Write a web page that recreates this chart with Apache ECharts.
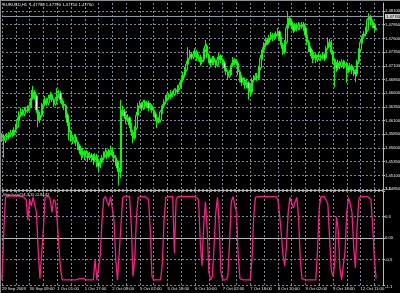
<!DOCTYPE html>
<html><head><meta charset="utf-8">
<script src="https://cdn.jsdelivr.net/npm/echarts@6/dist/echarts.min.js"></script>
<style>html,body{margin:0;padding:0;background:#000;}#c{width:400px;height:293px;}</style>
</head><body><div id="c"></div>
<script>
// ---- data ----
const timeLabels = ['29 Sep 2009','30 Sep 09:00','1 Oct 01:00','1 Oct 17:00','2 Oct 09:00','5 Oct 02:00','5 Oct 18:00','6 Oct 10:00','7 Oct 02:00','7 Oct 18:00','8 Oct 10:00','9 Oct 02:00','9 Oct 18:00','12 Oct 11:00'];
const priceTicks = [1.4810,1.4785,1.4760,1.4735,1.4710,1.4685,1.4660,1.4635,1.4610,1.4585,1.4560,1.4535,1.4510,1.4485];
const oscTicks = [1.1,0.5,0,-0.5,-1.1];
const bidPrice = 1.4776;
const titleText = 'EURUSD,H1  1.47780 1.47790 1.47750 1.47760';
const oscTitle = 'Stoch-rsi(14,3,3) -0.9442';
// [open, close, low, high]
const candles = [
[1.4582,1.4578,1.4571,1.4587],[1.4578,1.4574,1.4542,1.4584],[1.4574,1.4582,1.4569,1.4585],[1.4582,1.4580,1.4574,1.4587],[1.4580,1.4584,1.4576,1.4589],
[1.4584,1.4587,1.4580,1.4593],[1.4587,1.4585,1.4580,1.4593],[1.4585,1.4593,1.4582,1.4598],[1.4593,1.4598,1.4589,1.4604],[1.4598,1.4611,1.4596,1.4616],
[1.4611,1.4620,1.4607,1.4627],[1.4620,1.4626,1.4616,1.4633],[1.4626,1.4622,1.4618,1.4631],[1.4622,1.4629,1.4618,1.4635],[1.4629,1.4627,1.4622,1.4635],
[1.4627,1.4633,1.4624,1.4638],[1.4633,1.4637,1.4629,1.4644],[1.4637,1.4651,1.4633,1.4666],[1.4651,1.4662,1.4648,1.4673],[1.4662,1.4655,1.4648,1.4666],
[1.4655,1.4629,1.4624,1.4658],[1.4629,1.4611,1.4598,1.4633],[1.4611,1.4620,1.4606,1.4626],[1.4620,1.4637,1.4616,1.4642],[1.4637,1.4640,1.4633,1.4648],
[1.4640,1.4648,1.4637,1.4655],[1.4648,1.4642,1.4637,1.4651],[1.4642,1.4651,1.4638,1.4657],[1.4651,1.4657,1.4648,1.4662],[1.4657,1.4648,1.4644,1.4660],
[1.4648,1.4640,1.4635,1.4651],[1.4640,1.4648,1.4637,1.4653],[1.4648,1.4655,1.4644,1.4669],[1.4655,1.4660,1.4651,1.4666],[1.4660,1.4648,1.4642,1.4664],
[1.4648,1.4640,1.4635,1.4651],[1.4640,1.4637,1.4629,1.4646],[1.4637,1.4620,1.4615,1.4640],[1.4620,1.4607,1.4600,1.4624],[1.4607,1.4589,1.4574,1.4611],
[1.4589,1.4578,1.4571,1.4593],[1.4578,1.4574,1.4567,1.4584],[1.4574,1.4580,1.4569,1.4585],[1.4580,1.4571,1.4564,1.4584],[1.4571,1.4564,1.4556,1.4574],
[1.4564,1.4556,1.4549,1.4567],[1.4556,1.4547,1.4538,1.4560],[1.4547,1.4553,1.4542,1.4558],[1.4553,1.4545,1.4538,1.4556],[1.4545,1.4551,1.4542,1.4556],
[1.4551,1.4542,1.4534,1.4554],[1.4542,1.4547,1.4538,1.4553],[1.4547,1.4543,1.4536,1.4551],[1.4543,1.4538,1.4529,1.4549],[1.4538,1.4545,1.4534,1.4551],
[1.4545,1.4534,1.4525,1.4549],[1.4534,1.4527,1.4516,1.4540],[1.4527,1.4534,1.4523,1.4542],[1.4534,1.4542,1.4531,1.4547],[1.4542,1.4547,1.4538,1.4554],
[1.4547,1.4553,1.4543,1.4560],[1.4553,1.4545,1.4540,1.4556],[1.4545,1.4551,1.4542,1.4558],[1.4551,1.4556,1.4547,1.4564],[1.4556,1.4547,1.4542,1.4560],
[1.4547,1.4542,1.4534,1.4553],[1.4542,1.4534,1.4527,1.4547],[1.4534,1.4523,1.4516,1.4538],[1.4523,1.4516,1.4492,1.4529],[1.4516,1.4629,1.4505,1.4648],
[1.4629,1.4626,1.4618,1.4637],[1.4626,1.4618,1.4613,1.4631],[1.4618,1.4611,1.4604,1.4624],[1.4611,1.4615,1.4607,1.4622],[1.4615,1.4602,1.4596,1.4618],
[1.4602,1.4589,1.4582,1.4606],[1.4589,1.4578,1.4569,1.4593],[1.4578,1.4596,1.4574,1.4600],[1.4596,1.4620,1.4593,1.4626],[1.4620,1.4637,1.4616,1.4642],
[1.4637,1.4640,1.4633,1.4646],[1.4640,1.4633,1.4627,1.4644],[1.4633,1.4644,1.4629,1.4648],[1.4644,1.4637,1.4631,1.4648],[1.4637,1.4642,1.4633,1.4646],
[1.4642,1.4633,1.4627,1.4646],[1.4633,1.4637,1.4629,1.4642],[1.4637,1.4629,1.4624,1.4640],[1.4629,1.4622,1.4616,1.4633],[1.4622,1.4615,1.4609,1.4626],
[1.4615,1.4607,1.4596,1.4618],[1.4607,1.4611,1.4604,1.4616],[1.4611,1.4626,1.4607,1.4629],[1.4626,1.4637,1.4622,1.4640],[1.4637,1.4644,1.4633,1.4649],
[1.4644,1.4651,1.4640,1.4657],[1.4651,1.4657,1.4648,1.4662],[1.4657,1.4653,1.4648,1.4660],[1.4653,1.4660,1.4649,1.4666],[1.4660,1.4658,1.4653,1.4664],
[1.4658,1.4666,1.4655,1.4669],[1.4666,1.4662,1.4657,1.4669],[1.4662,1.4669,1.4658,1.4675],[1.4669,1.4675,1.4666,1.4680],[1.4675,1.4684,1.4671,1.4689],
[1.4684,1.4693,1.4680,1.4699],[1.4693,1.4702,1.4689,1.4708],[1.4702,1.4713,1.4699,1.4719],[1.4713,1.4724,1.4710,1.4744],[1.4724,1.4731,1.4721,1.4739],
[1.4731,1.4726,1.4721,1.4735],[1.4726,1.4730,1.4722,1.4737],[1.4730,1.4735,1.4726,1.4742],[1.4735,1.4724,1.4719,1.4739],[1.4724,1.4726,1.4719,1.4731],
[1.4726,1.4717,1.4710,1.4730],[1.4717,1.4721,1.4713,1.4726],[1.4721,1.4739,1.4717,1.4742],[1.4739,1.4746,1.4735,1.4757],[1.4746,1.4730,1.4724,1.4750],
[1.4730,1.4721,1.4715,1.4733],[1.4721,1.4715,1.4708,1.4724],[1.4715,1.4724,1.4711,1.4728],[1.4724,1.4717,1.4711,1.4728],[1.4717,1.4711,1.4706,1.4721],
[1.4711,1.4721,1.4708,1.4726],[1.4721,1.4728,1.4717,1.4733],[1.4728,1.4721,1.4715,1.4731],[1.4721,1.4715,1.4710,1.4724],[1.4715,1.4706,1.4700,1.4719],
[1.4706,1.4699,1.4693,1.4710],[1.4699,1.4691,1.4684,1.4702],[1.4691,1.4697,1.4688,1.4702],[1.4697,1.4711,1.4693,1.4715],[1.4711,1.4721,1.4708,1.4726],
[1.4721,1.4717,1.4711,1.4724],[1.4717,1.4715,1.4710,1.4722],[1.4715,1.4699,1.4693,1.4719],[1.4699,1.4688,1.4680,1.4702],[1.4688,1.4680,1.4673,1.4693],
[1.4680,1.4684,1.4675,1.4689],[1.4684,1.4675,1.4668,1.4688],[1.4675,1.4679,1.4669,1.4684],[1.4679,1.4669,1.4648,1.4682],[1.4669,1.4662,1.4655,1.4675],
[1.4662,1.4684,1.4658,1.4688],[1.4684,1.4688,1.4680,1.4693],[1.4688,1.4691,1.4684,1.4697],[1.4691,1.4688,1.4682,1.4697],[1.4688,1.4706,1.4684,1.4710],
[1.4706,1.4724,1.4702,1.4730],[1.4724,1.4739,1.4721,1.4744],[1.4739,1.4748,1.4735,1.4753],[1.4748,1.4757,1.4744,1.4762],[1.4757,1.4753,1.4748,1.4761],
[1.4753,1.4761,1.4750,1.4766],[1.4761,1.4766,1.4757,1.4772],[1.4766,1.4761,1.4755,1.4770],[1.4761,1.4764,1.4757,1.4770],[1.4764,1.4768,1.4761,1.4773],
[1.4768,1.4772,1.4764,1.4779],[1.4772,1.4761,1.4755,1.4775],[1.4761,1.4748,1.4741,1.4764],[1.4748,1.4735,1.4730,1.4752],[1.4735,1.4753,1.4731,1.4757],
[1.4753,1.4779,1.4750,1.4784],[1.4779,1.4797,1.4775,1.4808],[1.4797,1.4790,1.4784,1.4801],[1.4790,1.4783,1.4777,1.4794],[1.4783,1.4775,1.4770,1.4786],
[1.4775,1.4784,1.4772,1.4788],[1.4784,1.4779,1.4773,1.4788],[1.4779,1.4784,1.4775,1.4790],[1.4784,1.4781,1.4775,1.4788],[1.4781,1.4786,1.4777,1.4790],
[1.4786,1.4779,1.4773,1.4790],[1.4779,1.4766,1.4761,1.4783],[1.4766,1.4753,1.4748,1.4770],[1.4753,1.4742,1.4735,1.4757],[1.4742,1.4735,1.4728,1.4746],
[1.4735,1.4724,1.4715,1.4739],[1.4724,1.4730,1.4721,1.4735],[1.4730,1.4721,1.4715,1.4733],[1.4721,1.4726,1.4717,1.4730],[1.4726,1.4728,1.4721,1.4733],
[1.4728,1.4724,1.4719,1.4731],[1.4724,1.4730,1.4721,1.4735],[1.4730,1.4724,1.4719,1.4733],[1.4724,1.4742,1.4721,1.4746],[1.4742,1.4750,1.4739,1.4762],
[1.4750,1.4753,1.4744,1.4759],[1.4753,1.4735,1.4730,1.4757],[1.4735,1.4721,1.4713,1.4739],[1.4721,1.4711,1.4671,1.4724],[1.4711,1.4706,1.4699,1.4717],
[1.4706,1.4715,1.4702,1.4721],[1.4715,1.4710,1.4704,1.4719],[1.4710,1.4717,1.4706,1.4722],[1.4717,1.4710,1.4704,1.4721],[1.4710,1.4713,1.4706,1.4719],
[1.4713,1.4706,1.4679,1.4717],[1.4706,1.4702,1.4697,1.4711],[1.4702,1.4710,1.4699,1.4715],[1.4710,1.4702,1.4695,1.4713],[1.4702,1.4699,1.4691,1.4708],
[1.4699,1.4695,1.4680,1.4704],[1.4695,1.4717,1.4691,1.4721],[1.4717,1.4739,1.4713,1.4742],[1.4739,1.4753,1.4735,1.4757],[1.4753,1.4764,1.4750,1.4768],
[1.4764,1.4768,1.4761,1.4773],[1.4768,1.4775,1.4764,1.4781],[1.4775,1.4794,1.4772,1.4797],[1.4794,1.4799,1.4790,1.4806],[1.4799,1.4790,1.4784,1.4803],
[1.4790,1.4784,1.4779,1.4794],[1.4784,1.4779,1.4773,1.4788],[1.4778,1.4776,1.4775,1.4779]
];
const osc = [
-0.98,0.1,0.95,0.97,0.98,0.98,0.98,0.98,0.98,0.98,
0.98,0.98,0.97,0.98,0.9,0.42,0.9,0.75,0.95,0.95,
0.6,-0.3,-0.95,-0.95,0.2,0.95,0.97,0.98,0.9,0.6,
0.9,0.85,0.4,-0.2,-0.75,-0.98,-0.98,-0.98,-0.98,-0.98,
-0.98,-0.98,-0.98,-0.98,-0.98,-0.95,-0.98,-0.95,-0.98,-0.98,
-0.98,-0.98,-0.98,-0.98,-0.5,-0.98,-0.98,-0.4,0.4,0.92,
0.97,0.85,0.75,0.97,0.95,0.4,-0.5,-0.98,-0.98,0.3,
0.95,0.97,0.98,0.98,0.97,0.3,-0.9,-0.5,0.5,0.95,
0.97,0.97,0.98,0.97,0.97,0.9,0.2,-0.9,-0.98,-0.98,
-0.98,-0.98,-0.98,-0.6,0.4,0.95,0.97,0.97,0.98,0.97,
-0.35,0.9,0.97,0.97,0.97,0.97,0.97,0.97,0.97,0.97,
0.97,0.97,0.97,0.97,0.9,-0.1,-0.65,0.3,0.85,0.2,
-0.8,-0.98,-0.9,-0.2,0.6,0.95,0.3,-0.8,-0.98,-0.98,
-0.98,-0.9,-0.1,0.85,0.97,0.97,0.6,-0.4,-0.95,-0.98,
-0.98,-0.98,-0.98,-0.98,-0.98,-0.5,0.5,0.95,0.97,0.97,
0.97,0.97,0.97,0.97,0.97,0.97,0.97,0.97,0.97,0.97,
0.9,0.55,0.1,-0.4,-0.65,-0.2,0.6,0.95,0.97,0.7,
0.85,0.95,0.5,-0.5,-0.95,-0.98,-0.98,-0.98,-0.98,-0.98,
-0.98,-0.98,-0.98,-0.3,0.7,0.97,0.97,0.97,0.97,0.8,
0.0,-0.75,-0.9,-0.6,0.5,0.2,-0.7,-0.98,-0.95,-0.3,
0.6,0.95,0.8,0.6,-0.2,-0.7,0.3,0.9,0.97,0.97,
0.97,0.97,0.97,0.97,0.9,0.3,-0.5,-0.95
];
// ---- layout ----
const N_SLOTS = 222;
const categories = [];
for (let i = 0; i < N_SLOTS; i++) categories.push(i % 16 === 0 && timeLabels[i / 16] ? timeLabels[i / 16] : '');
const FONT = 'Liberation Sans';
const FS = 4.2;
const GRID_C = '#7a8896';
const AX_C = '#b8b8b8';
const chart = echarts.init(document.getElementById('c'), null, {renderer: 'canvas'});
chart.setOption({
  animation: false,
  backgroundColor: '#000000',
  title: [
    {text: titleText, left: 3, top: 2.5, padding: 0, textStyle: {color: '#e8e8e8', fontSize: FS, fontFamily: FONT, fontWeight: 'normal'}},
    {text: oscTitle, left: 3, top: 193, padding: 0, textStyle: {color: '#e8e8e8', fontSize: FS, fontFamily: FONT, fontWeight: 'normal'}}
  ],
  grid: [
    {left: 2, right: 17, top: 3, height: 187, containLabel: false, outerBoundsMode: 'none'},
    {left: 2, right: 17, top: 191, height: 94, containLabel: false, outerBoundsMode: 'none'}
  ],
  xAxis: [
    {type: 'category', gridIndex: 0, data: categories, boundaryGap: false,
     axisLine: {show: true, lineStyle: {color: AX_C, width: 1}}, axisTick: {show: false}, axisLabel: {show: false},
     splitLine: {show: true, interval: 7, lineStyle: {color: GRID_C, type: [2, 2], width: 1}}},
    {type: 'category', gridIndex: 1, data: categories, boundaryGap: false,
     axisLine: {show: true, lineStyle: {color: AX_C, width: 1}},
     axisTick: {show: true, interval: 15, length: 2, lineStyle: {color: AX_C}},
     axisLabel: {show: true, interval: 15, color: '#e8e8e8', fontSize: FS, fontFamily: FONT, align: 'left', margin: 2},
     splitLine: {show: true, interval: 7, lineStyle: {color: GRID_C, type: [2, 2], width: 1}}}
  ],
  yAxis: [
    {type: 'value', gridIndex: 0, position: 'right', min: 1.44833, max: 1.48246, scale: true,
     axisLine: {show: true, lineStyle: {color: AX_C, width: 1}},
     axisTick: {show: true, length: 2, customValues: priceTicks, lineStyle: {color: AX_C}},
     axisLabel: {show: true, customValues: priceTicks, color: '#e8e8e8', fontSize: FS, fontFamily: FONT, margin: 2, formatter: v => v.toFixed(5)},
     splitLine: {show: true, lineStyle: {color: GRID_C, type: [2, 2], width: 1}}},
    {type: 'value', gridIndex: 1, position: 'right', min: -1.1, max: 1.1,
     axisLine: {show: true, lineStyle: {color: AX_C, width: 1}},
     axisTick: {show: true, length: 2, customValues: oscTicks, lineStyle: {color: AX_C}},
     axisLabel: {show: true, customValues: oscTicks, color: '#e8e8e8', fontSize: FS, fontFamily: FONT, margin: 2,
       verticalAlignMaxLabel: 'top', verticalAlignMinLabel: 'bottom',
       formatter: v => (v === 0 ? '0.00' : String(v))},
     splitLine: {show: true, lineStyle: {color: GRID_C, type: [2, 2], width: 1}}}
  ],
  series: [
    {type: 'candlestick', xAxisIndex: 0, yAxisIndex: 0, data: candles, barWidth: 1.8,
     itemStyle: {color: '#003300', color0: '#e8ffe8', borderColor: '#00ff00', borderColor0: '#00ff00', borderWidth: 1},
     markLine: {silent: true, symbol: ['none', 'none'], animation: false,
       lineStyle: {color: '#8a96a2', type: 'solid', width: 1},
       label: {show: true, position: 'end', distance: 2, formatter: () => bidPrice.toFixed(5), color: '#000', backgroundColor: '#c8c8c8', fontSize: FS, fontFamily: FONT, padding: [0.5, 1]},
       data: [{yAxis: bidPrice}]}},
    {type: 'line', xAxisIndex: 1, yAxisIndex: 1, data: osc, showSymbol: false, symbol: 'none',
     lineStyle: {color: '#ff1a8c', width: 1.3}}
  ],
  graphic: [
    {type: 'line', shape: {x1: 0.5, y1: 0, x2: 0.5, y2: 293}, style: {stroke: '#8c8c8c', lineWidth: 1}},
    {type: 'line', shape: {x1: 0, y1: 0.5, x2: 400, y2: 0.5}, style: {stroke: '#8c8c8c', lineWidth: 1}}
  ]
});
</script></body></html>
